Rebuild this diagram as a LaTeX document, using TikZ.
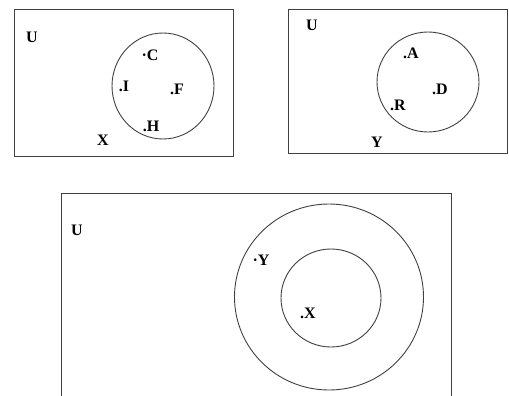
\documentclass[tikz,border=0pt]{standalone}
\usepackage{fontspec}
\setmainfont{Liberation Serif}
\begin{document}
\begin{tikzpicture}[x=1pt,y=-1pt,
  frame/.style={draw=black!75,line width=1pt},
  setc/.style={draw=black!75,line width=0.9pt},
  lbl/.style={font=\fontsize{16}{16}\selectfont\bfseries,inner sep=0pt}]
\useasboundingbox (0,0) rectangle (509,396);
% box 1
\draw[frame] (14,9.5) rectangle (233,156);
\draw[setc] (163,86) ellipse [x radius=51, y radius=53];
\node[lbl] (u1) at (32,37) {U};
\node[lbl] (c) at (150,55) {·C};
\node[lbl] (i) at (124,86) {.I};
\node[lbl] (f) at (177,89) {.F};
\node[lbl] (h) at (151,126) {.H};
\node[lbl] (x1) at (103,140) {X};
% box 2
\draw[frame] (288.5,9.5) rectangle (507.5,153);
\draw[setc] (428,82) ellipse [x radius=51, y radius=50];
\node[lbl] (u2) at (312,25) {U};
\node[lbl] (a) at (411,53) {.A};
\node[lbl] (d) at (440,89) {.D};
\node[lbl] (r) at (398,105) {.R};
\node[lbl] (y2) at (377,142) {Y};
% box 3
\draw[frame] (61,400) -- (61,193.5) -- (451,193.5) -- (451,400);
\draw[setc] (329,297) ellipse [x radius=94.5, y radius=93];
\draw[setc] (331,298) ellipse [x radius=50, y radius=49];
\node[lbl] (u3) at (77,230) {U};
\node[lbl] (y3) at (261,260) {·Y};
\node[lbl] (x3) at (308,313) {.X};
\end{tikzpicture}
\end{document}
